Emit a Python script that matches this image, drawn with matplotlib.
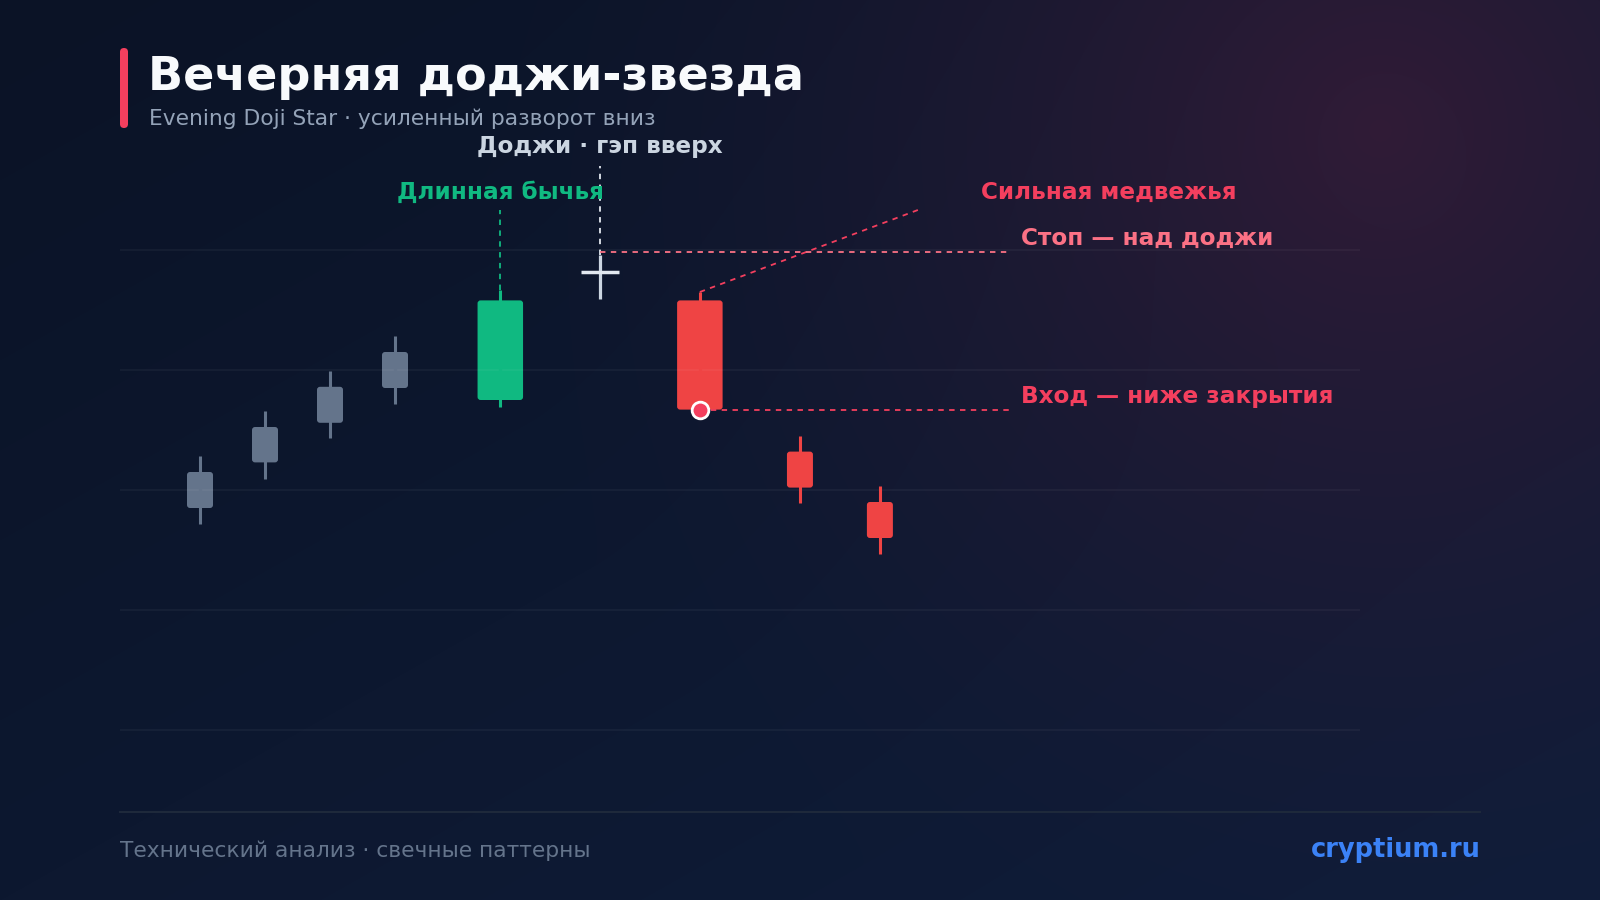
import numpy as np
import matplotlib
matplotlib.use("Agg")
import matplotlib.pyplot as plt
from matplotlib.patches import FancyBboxPatch

plt.rcParams['font.family'] = ['DejaVu Sans']

# Данные свечей (позиция по времени, OHLC)
pos = [0, 1, 2, 3, 4.62, 6.15, 7.69, 9.23, 10.46]
opens = [118.5, 122.3, 125.6, 128.5, 127.5, 138.2, 135.8, 123.2, 119.0]
highs = [122.8, 126.6, 129.9, 132.8, 136.7, 139.6, 136.5, 124.5, 120.3]
lows = [117.2, 120.9, 124.3, 127.2, 126.9, 135.9, 126.6, 118.9, 114.7]
closes = [121.5, 125.25, 128.6, 131.5, 135.8, 138.2, 126.7, 120.2, 116.0]
kind = ['ctx', 'ctx', 'ctx', 'ctx', 'bull', 'doji', 'bear', 'after', 'after']

grid_levels = [100, 110, 120, 130, 140]
stop_level = 139.8
entry_level = 126.7

title = "Вечерняя доджи-звезда"
subtitle = "Evening Doji Star · усиленный разворот вниз"
footer = "Технический анализ · свечные паттерны"
brand = "cryptium.ru"

W, H = 1600, 900
fig = plt.figure(figsize=(16, 9), dpi=100)

# Фон: диагональный градиент + фиолетовое свечение справа сверху
bg = fig.add_axes([0, 0, 1, 1])
yy, xx = np.mgrid[0:H, 0:W]
t = (xx / W * 0.5 + yy / H * 0.5)[..., None]
c0 = np.array([11, 19, 38]) / 255
c1 = np.array([15, 29, 58]) / 255
img = c0 * (1 - t) + c1 * t
d = np.sqrt((xx - 1380) ** 2 + (yy - 130) ** 2)
g = np.clip(1 - d / 900, 0, 1)[..., None] ** 1.6
glow = np.array([55, 28, 56]) / 255
img = img * (1 - g * 0.85) + glow * g * 0.85
bg.imshow(img, extent=[0, W, H, 0], aspect='auto')
bg.set_xlim(0, W)
bg.set_ylim(H, 0)
bg.axis('off')

# Заголовок
bg.add_patch(FancyBboxPatch((120, 48), 8, 80, boxstyle="round,pad=0,rounding_size=4",
                            color='#f43f5e', lw=0))
bg.text(148, 77, title, color='#f8fafc', fontsize=33.2, fontweight='bold', va='center')
bg.text(149, 119, subtitle, color='#94a3b8', fontsize=15.7, va='center')

# Подвал
bg.plot([120, 1480], [812, 812], color='#1e293b', lw=1.5)
bg.text(120, 851, footer, color='#64748b', fontsize=15.7, va='center')
bg.text(1481, 850, brand, color='#3b82f6', fontsize=18.5, fontweight='bold', va='center', ha='right')

# Основная область графика
px_x, px_y = 65, 12  # пикселей на единицу по x и y
ax = fig.add_axes([120 / W, 110 / H, 1240 / W, 660 / H])
ax.set_xlim(-80 / px_x, 1160 / px_x)
ax.set_ylim(95, 150)
ax.patch.set_alpha(0)
ax.axis('off')

for lv in grid_levels:
    ax.axhline(lv, color='#ffffff', alpha=0.04, lw=1.5)

colors = {'ctx': '#64748b', 'bull': '#10b981', 'bear': '#ef4444', 'after': '#ef4444'}
widths = {'ctx': 0.4, 'bull': 0.7, 'bear': 0.7, 'after': 0.4}

for x, o, h, l, c, k in zip(pos, opens, highs, lows, closes, kind):
    if k == 'doji':
        ax.vlines(x, l, h, color='#cbd5e1', lw=2.3)
        ax.hlines(o, x - 0.29, x + 0.29, color='#e2e8f0', lw=2.5)
        continue
    col = colors[k]
    w = widths[k]
    ax.vlines(x, l, h, color=col, lw=2.2)
    lo, hi = min(o, c), max(o, c)
    ax.add_patch(FancyBboxPatch((x - w / 2, lo), w, hi - lo,
                                boxstyle="round,pad=0,rounding_size=%f" % (3 / px_x),
                                mutation_aspect=px_x / px_y, color=col, lw=0))

bull_x, doji_x, bear_x = pos[4], pos[5], pos[6]
lab = 16.7

# Подписи и направляющие
ax.plot([bull_x, bull_x], [highs[4], 143.3], color='#10b981', lw=1.3, ls=(0, (3, 3)))
ax.text(bull_x, 144.8, "Длинная бычья", color='#10b981', fontsize=lab, fontweight='bold',
        ha='center', va='center')

ax.plot([doji_x, doji_x], [highs[5], 147.0], color='#e2e8f0', lw=1.3, ls=(0, (3, 3)))
ax.text(doji_x, 148.6, "Доджи · гэп вверх", color='#cbd5e1', fontsize=lab, fontweight='bold',
        ha='center', va='center')

end_x = 810 / px_x
ax.plot([bear_x, 720 / px_x], [highs[6], 143.4], color='#f43f5e', lw=1.3, ls=(0, (3, 3)))
ax.text(781 / px_x, 144.8, "Сильная медвежья", color='#f43f5e', fontsize=lab, fontweight='bold',
        ha='left', va='center')

ax.plot([doji_x, end_x], [stop_level, stop_level], color='#fb7185', lw=1.3, ls=(0, (3, 3)))
ax.text(821 / px_x, 141.0, "Стоп — над доджи", color='#fb7185', fontsize=lab, fontweight='bold',
        ha='left', va='center')

ax.plot([bear_x, end_x], [entry_level, entry_level], color='#f43f5e', lw=1.3, ls=(0, (3, 3)))
ax.plot(bear_x, entry_level, 'o', ms=12, mfc='#f43f5e', mec='white', mew=2, zorder=5)
ax.text(821 / px_x, 127.8, "Вход — ниже закрытия", color='#f43f5e', fontsize=lab, fontweight='bold',
        ha='left', va='center')

fig.savefig("out.png", dpi=100)
